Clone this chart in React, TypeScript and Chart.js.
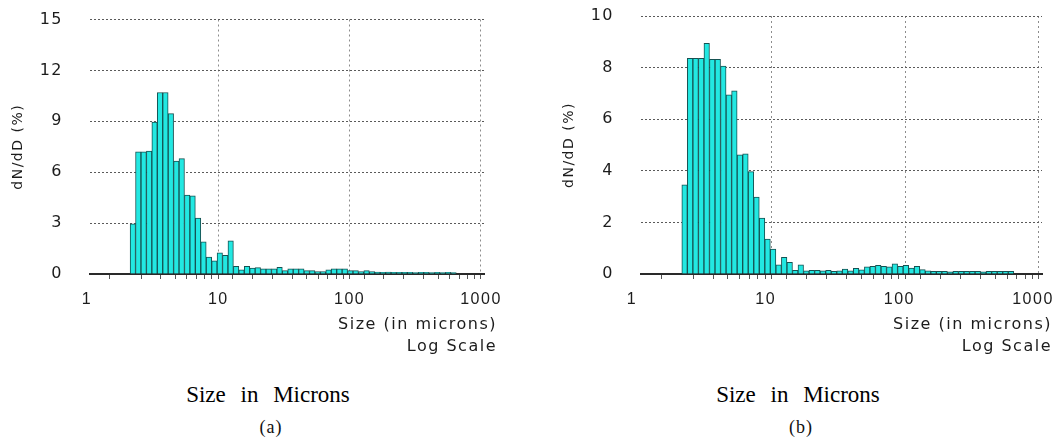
import React, { useEffect, useRef } from 'react';
import { Chart, registerables } from 'chart.js';

Chart.register(...registerables);

// Bin centres (microns), logarithmic bins shared by both panels
const binSizes = [
  2.1186, 2.3305, 2.5635, 2.8199, 3.1018, 3.4120, 3.7532, 4.1285, 4.5414, 4.9955,
  5.4951, 6.0446, 6.6491, 7.3140, 8.0454, 8.8499, 9.7349, 10.708, 11.779, 12.957,
  14.253, 15.678, 17.246, 18.971, 20.868, 22.954, 25.250, 27.775, 30.552, 33.608,
  36.969, 40.665, 44.732, 49.205, 54.126, 59.538, 65.492, 72.041, 79.245, 87.170,
  95.887, 105.48, 116.02, 127.62, 140.39, 154.43, 169.87, 186.86, 205.54, 226.10,
  248.71, 273.58, 300.94, 331.03, 364.13, 400.54, 440.60, 484.66, 533.12, 586.44,
];

// Panel (a) dN/dD (%)
const dndA = [
  2.95, 7.2, 7.2, 7.25, 8.95, 10.7, 10.7, 9.45, 6.65, 6.8,
  4.65, 4.6, 3.3, 1.9, 1.0, 0.78, 1.25, 1.1, 1.95, 0.45,
  0.25, 0.45, 0.35, 0.38, 0.3, 0.3, 0.3, 0.4, 0.2, 0.3,
  0.3, 0.3, 0.2, 0.2, 0.15, 0.15, 0.25, 0.3, 0.3, 0.3,
  0.2, 0.2, 0.15, 0.2, 0.15, 0.12, 0.1, 0.12, 0.1, 0.1,
  0.1, 0.1, 0.08, 0.1, 0.1, 0.08, 0.1, 0.08, 0.1, 0.08,
];

// Panel (b) dN/dD (%)
const dndB = [
  3.46, 8.36, 8.36, 8.36, 8.94, 8.32, 8.32, 8.06, 6.94, 7.1,
  4.62, 4.66, 3.97, 2.98, 2.17, 1.35, 0.97, 0.36, 0.65, 0.45,
  0.14, 0.36, 0.12, 0.14, 0.14, 0.12, 0.14, 0.1, 0.12, 0.19,
  0.12, 0.22, 0.16, 0.28, 0.3, 0.34, 0.3, 0.28, 0.39, 0.3,
  0.34, 0.23, 0.3, 0.17, 0.12, 0.1, 0.1, 0.1, 0.08, 0.1,
  0.1, 0.1, 0.1, 0.1, 0.08, 0.1, 0.1, 0.1, 0.1, 0.1,
];

const xRange = [1, 1000];
const yMaxA = 15;
const yStepA = 3;
const yMaxB = 10;
const yStepB = 2;

const yAxisTitle = 'dN/dD (%)';
const xAxisTitleLines = ['Size (in microns)', 'Log Scale'];
const captionText = 'Size in Microns';
const panelLabels = ['(a)', '(b)'];

const FONT = "'DejaVu Sans', 'Liberation Sans', sans-serif";
const TICK_FONT = "'Liberation Sans', Arial, sans-serif";
const SERIF = "'Liberation Serif', 'Times New Roman', serif";
const TEXT = '#1c1c1c';

const isPow10 = (v: number) => {
  if (!v || v <= 0) return false;
  const l = Math.log10(v);
  return Math.abs(l - Math.round(l)) < 1e-6;
};

const spacingPlugin = {
  id: 'letterSpacingPlugin',
  beforeLayout(chart: any) {
    (chart.ctx as any).letterSpacing = '1.5px';
  },
  beforeDraw(chart: any) {
    (chart.ctx as any).letterSpacing = '1.5px';
  },
};

type PanelProps = {
  values: number[];
  yMax: number;
  yStep: number;
  left: number;
  width: number;
  height: number;
  padTop: number;
  padRight: number;
  dummyWidth: number;
  xAxisHeight: number;
  labelShift: number;
};

function Panel(p: PanelProps) {
  const ref = useRef<HTMLCanvasElement | null>(null);
  useEffect(() => {
    if (!ref.current) return;
    const chart = new Chart(ref.current, {
      type: 'bar',
      data: {
        datasets: [
          {
            data: binSizes.map((s, i) => ({ x: s, y: p.values[i] })),
            backgroundColor: 'rgb(34, 232, 226)',
            borderColor: 'rgb(22, 82, 82)',
            borderWidth: 1,
            barPercentage: 1,
            categoryPercentage: 1,
          } as any,
        ],
      },
      options: {
        animation: false,
        responsive: false,
        maintainAspectRatio: false,
        devicePixelRatio: 1,
        events: [],
        layout: {
          autoPadding: false,
          padding: { top: p.padTop, left: 0, right: p.padRight, bottom: 2 },
        } as any,
        plugins: {
          legend: { display: false },
          tooltip: { enabled: false },
          title: {
            display: true,
            position: 'bottom',
            align: 'end',
            text: xAxisTitleLines,
            color: TEXT,
            font: { family: FONT, size: 16, weight: 'normal', lineHeight: 1.4 },
            padding: 0,
          },
        },
        scales: {
          x: {
            type: 'logarithmic',
            min: xRange[0],
            max: xRange[1],
            z: 1,
            grid: {
              color: (ctx: any) => (ctx.tick && isPow10(ctx.tick.value) ? '#8c8c8c' : 'rgba(0,0,0,0)'),
              lineWidth: 1,
              drawTicks: true,
              tickLength: 16,
              tickColor: '#555',
              tickWidth: 1,
              tickBorderDash: [4, 40],
            },
            border: { display: true, color: '#2a2a2a', width: 2, dash: [2, 3] },
            ticks: {
              autoSkip: false,
              maxRotation: 0,
              minRotation: 0,
              padding: 0,
              labelOffset: p.labelShift,
              color: TEXT,
              font: { family: TICK_FONT, size: 16 },
              callback: (v: any) => (isPow10(Number(v)) ? String(Math.round(Number(v))) : ''),
            },
            afterFit: (s: any) => {
              s.height = p.xAxisHeight;
            },
          } as any,
          y: {
            type: 'linear',
            min: 0,
            max: p.yMax,
            z: 1,
            grid: {
              color: '#5a5a5a',
              lineWidth: 1,
              drawTicks: true,
              tickLength: 27,
              tickColor: 'rgba(0,0,0,0)',
            },
            border: { display: false, dash: [2, 2] },
            ticks: {
              stepSize: p.yStep,
              padding: 0,
              color: TEXT,
              font: { family: FONT, size: 16 },
            },
            title: {
              display: true,
              text: yAxisTitle,
              color: TEXT,
              font: { family: FONT, size: 14, lineHeight: 1.2 },
              padding: { top: 9.6, bottom: 0 },
            },
            afterFit: (s: any) => {
              s.width = 90;
            },
          } as any,
          yR: {
            type: 'linear',
            position: 'right',
            display: true,
            grid: { display: false, drawTicks: false },
            ticks: { display: false, padding: 0 },
            border: { display: false },
            afterFit: (s: any) => {
              s.width = p.dummyWidth;
            },
          } as any,
        },
      } as any,
      plugins: [spacingPlugin as any],
    });
    return () => chart.destroy();
  }, []);
  return (
    <canvas
      ref={ref}
      width={p.width}
      height={p.height}
      style={{ position: 'absolute', left: p.left, top: 0, width: p.width, height: p.height }}
    />
  );
}

function Caption(props: { center: number; text: string; label: string }) {
  return (
    <>
      <div
        style={{
          position: 'absolute',
          left: props.center - 150,
          top: 383,
          width: 300,
          textAlign: 'center',
          fontFamily: SERIF,
          fontSize: 23,
          lineHeight: '23px',
          wordSpacing: 9,
          color: '#000',
          whiteSpace: 'nowrap',
        }}
      >
        {props.text}
      </div>
      <div
        style={{
          position: 'absolute',
          left: props.center - 150 + 3,
          top: 418,
          width: 300,
          textAlign: 'center',
          fontFamily: SERIF,
          fontSize: 18,
          lineHeight: '18px',
          letterSpacing: 1,
          color: '#111',
          whiteSpace: 'nowrap',
        }}
      >
        {props.label}
      </div>
    </>
  );
}

export default function App() {
  return (
    <div
      style={{
        position: 'fixed',
        left: 0,
        top: 0,
        width: 1055,
        height: 445,
        background: '#fff',
        overflow: 'hidden',
      }}
    >
      <Panel
        values={dndA}
        yMax={yMaxA}
        yStep={yStepA}
        left={0}
        width={530}
        height={360}
        padTop={19.5}
        padRight={33}
        dummyWidth={13}
        xAxisHeight={39.2}
        labelShift={-3}
      />
      <Panel
        values={dndB}
        yMax={yMaxB}
        yStep={yStepB}
        left={551}
        width={534}
        height={360}
        padTop={16}
        padRight={33}
        dummyWidth={10}
        xAxisHeight={39.2}
        labelShift={-9}
      />
      <Caption center={268} text={captionText} label={panelLabels[0]} />
      <Caption center={798} text={captionText} label={panelLabels[1]} />
    </div>
  );
}
